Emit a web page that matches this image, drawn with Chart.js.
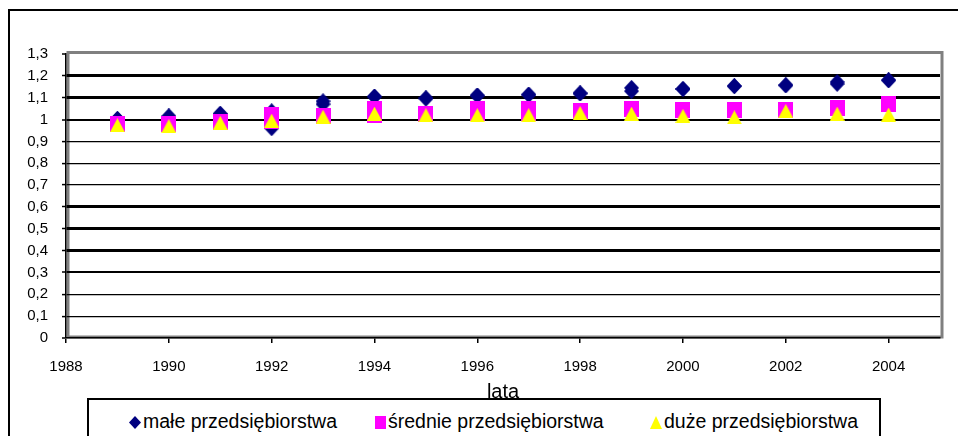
<!DOCTYPE html>
<html>
<head>
<meta charset="utf-8">
<script src="https://cdn.jsdelivr.net/npm/chart.js@4.4.1/dist/chart.umd.min.js"></script>
<style>
  body { margin: 0; background: #fff; }
  #wrap { position: relative; width: 958px; height: 436px; overflow: hidden; }
  #legend {
    position: absolute; left: 87px; top: 398px; width: 790px; height: 60px;
    border: 2px solid #000; background: #fff;
    font-family: "Liberation Sans", Arial, sans-serif; font-size: 19.5px; color: #000;
  }
  .item { position: absolute; top: 10px; white-space: nowrap; line-height: 22px; }
  .item canvas { vertical-align: -1px; margin-right: 2px; }
</style>
</head>
<body>
<div id="wrap">
  <canvas id="chart" width="958" height="436"></canvas>
  <div id="legend"></div>
</div>
<script>
const years = [1989, 1990, 1991, 1992, 1993, 1994, 1995, 1996, 1997, 1998, 1999, 2000, 2001, 2002, 2003, 2004];

// male przedsiebiorstwa - two overlapping diamond series
const maleA = [1.003, 1.014, 1.026, 1.038, 1.084, 1.105, 1.097, 1.11, 1.114, 1.12, 1.145, 1.14, 1.153, 1.157, 1.172, 1.18];
const maleB = [1.003, 1.014, 1.026, 0.96, 1.07, 1.105, 1.097, 1.11, 1.114, 1.12, 1.13, 1.14, 1.153, 1.157, 1.163, 1.18];
// srednie przedsiebiorstwa
const sredA = [0.979, 0.978, 0.99, 1.023, 1.018, 1.046, 1.027, 1.046, 1.046, 1.04, 1.046, 1.045, 1.043, 1.045, 1.053, 1.072];
const sredB = [0.979, 0.978, 0.99, 0.993, 1.018, 1.023, 1.027, 1.028, 1.028, 1.04, 1.046, 1.045, 1.043, 1.045, 1.053, 1.072];
// duze przedsiebiorstwa
const duze = [0.974, 0.97, 0.985, 0.995, 1.013, 1.027, 1.02, 1.02, 1.02, 1.03, 1.027, 1.017, 1.01, 1.039, 1.027, 1.023];

const seriesNames = ['małe przedsiębiorstwa', 'średnie przedsiębiorstwa', 'duże przedsiębiorstwa'];
const xTicks = [1988, 1990, 1992, 1994, 1996, 1998, 2000, 2002, 2004];
const yTicks = [0, 0.1, 0.2, 0.3, 0.4, 0.5, 0.6, 0.7, 0.8, 0.9, 1, 1.1, 1.2, 1.3];

const NAVY = '#000080', MAGENTA = '#ff00ff', YELLOW = '#ffff00';

function makeMarker(shape, color, w, h) {
  const c = document.createElement('canvas');
  c.width = w; c.height = h;
  const g = c.getContext('2d');
  g.fillStyle = color;
  g.beginPath();
  if (shape === 'diamond') {
    g.moveTo(w / 2, 0); g.lineTo(w, h / 2); g.lineTo(w / 2, h); g.lineTo(0, h / 2);
  } else if (shape === 'triangle') {
    g.moveTo(w / 2, 0); g.lineTo(w, h); g.lineTo(0, h);
  } else {
    g.rect(0, 0, w, h);
  }
  g.closePath();
  g.fill();
  return c;
}

const pts = (vals) => vals.map((v, i) => ({ x: years[i], y: v }));

const diamond = makeMarker('diamond', NAVY, 15, 16);
const square = makeMarker('square', MAGENTA, 15, 16);
const triangle = makeMarker('triangle', YELLOW, 15, 14);

function gridWidth(v) {
  const t = Math.round(v * 10);
  if (t === 0 || t === 13) return 0;
  if ([12, 11, 6, 5, 4].includes(t)) return 3;
  if (t === 10 || t === 3) return 2;
  return 1.2;
}

const framePlugin = {
  id: 'frame',
  beforeDraw(chart) {
    const { ctx, chartArea: a } = chart;
    ctx.save();
    ctx.fillStyle = '#fff';
    ctx.fillRect(0, 0, chart.width, chart.height);
    // outer chart border
    ctx.strokeStyle = '#000';
    ctx.lineWidth = 2;
    ctx.beginPath();
    ctx.moveTo(9, chart.height + 5);
    ctx.lineTo(9, 10);
    ctx.lineTo(chart.width + 5, 10);
    ctx.stroke();
    // plot area border
    ctx.strokeStyle = '#808080';
    ctx.lineWidth = 3;
    ctx.strokeRect(a.left + 2, a.top - 1.5, a.right - a.left, a.bottom - a.top + 0.5);
    ctx.restore();
  }
};

new Chart(document.getElementById('chart'), {
  type: 'scatter',
  data: {
    datasets: [
      { label: seriesNames[2], data: pts(duze), pointStyle: triangle },
      { label: seriesNames[1], data: pts(sredA), pointStyle: square },
      { label: seriesNames[1], data: pts(sredB), pointStyle: square },
      { label: seriesNames[0], data: pts(maleA), pointStyle: diamond },
      { label: seriesNames[0], data: pts(maleB), pointStyle: diamond }
    ]
  },
  options: {
    responsive: false,
    animation: false,
    devicePixelRatio: 1,
    layout: { padding: { left: 10, top: 54, right: 18, bottom: 32 } },
    plugins: { legend: { display: false }, tooltip: { enabled: false } },
    scales: {
      x: {
        type: 'linear', min: 1988, max: 2005,
        afterFit: (s) => { s.height = 66; },
        afterBuildTicks: (s) => { s.ticks = xTicks.map((v) => ({ value: v })); },
        ticks: {
          padding: 15, color: '#000',
          font: { family: 'Liberation Sans', size: 15 },
          callback: (v) => String(v)
        },
        grid: { drawOnChartArea: false, tickLength: 5, color: '#000', lineWidth: 1.5 },
        border: { color: '#000', width: 1.5 },
        title: {
          display: true, text: 'lata', color: '#000', padding: 0,
          font: { family: 'Liberation Sans', size: 20 }
        }
      },
      y: {
        min: 0, max: 1.3,
        afterFit: (s) => { s.width = 56; },
        afterBuildTicks: (s) => { s.ticks = yTicks.map((v) => ({ value: v })); },
        ticks: {
          padding: 14, color: '#000',
          font: { family: 'Liberation Sans', size: 15 },
          callback: (v) => String(Number(v.toFixed(1))).replace('.', ',')
        },
        grid: {
          color: '#000',
          lineWidth: (c) => gridWidth(c.tick.value),
          tickLength: 4, tickWidth: 1.5, tickColor: '#000'
        },
        border: { color: '#000', width: 1.5 }
      }
    }
  },
  plugins: [framePlugin]
});

// legend box
const legend = document.getElementById('legend');
const legendItems = [
  { text: seriesNames[0], marker: makeMarker('diamond', NAVY, 12, 13), left: 40 },
  { text: seriesNames[1], marker: makeMarker('square', MAGENTA, 11, 13), left: 286 },
  { text: seriesNames[2], marker: makeMarker('triangle', YELLOW, 12, 13), left: 561 }
];
legendItems.forEach((it) => {
  const span = document.createElement('span');
  span.className = 'item';
  span.style.left = it.left + 'px';
  span.appendChild(it.marker);
  span.appendChild(document.createTextNode(it.text));
  legend.appendChild(span);
});
</script>
</body>
</html>
